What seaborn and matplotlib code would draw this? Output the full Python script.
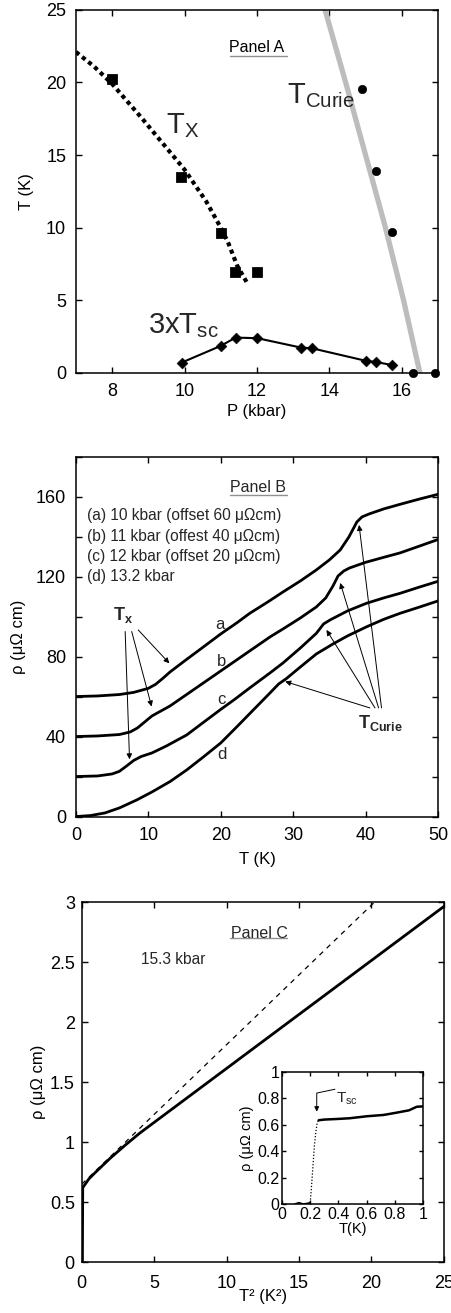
import numpy as np
import pandas as pd
import matplotlib
matplotlib.use('Agg')
import matplotlib.pyplot as plt
import seaborn as sns

# ---------------- data ----------------
# Panel A
tx_line_P = [7.0, 7.5, 8.0, 8.8, 9.6, 10.0, 10.6, 11.0, 11.2, 11.45, 11.75]
tx_line_T = [22.1, 21.1, 19.9, 17.6, 15.2, 14.0, 11.8, 10.0, 9.0, 7.4, 6.1]
tx_pts_P = [8.0, 9.9, 11.02, 11.39, 11.99]
tx_pts_T = [20.25, 13.5, 9.6, 6.98, 6.98]
curie_pts_P = [14.91, 15.3, 15.72, 16.32, 16.92]
curie_pts_T = [19.56, 13.93, 9.69, 0.0, 0.0]
curie_line_P = [13.88, 14.45, 15.0, 15.55, 16.05, 16.5]
curie_line_T = [25.0, 20.0, 15.0, 10.0, 5.0, 0.0]
tsc_P = [9.92, 11.0, 11.41, 12.01, 13.22, 13.51, 15.01, 15.3, 15.72]
tsc_T = [0.71, 1.86, 2.43, 2.39, 1.74, 1.70, 0.83, 0.74, 0.55]

# Panel B
a_T = [0, 3, 6, 8, 10, 11, 12, 13, 15, 17.6, 20, 22.2, 24, 26.5, 28.6, 31, 33.2, 35, 36.5,
       37.7, 38.8, 39.5, 40.5, 42.5, 44.75, 47.5, 50]
a_rho = [60.2, 60.5, 61.2, 62.3, 64.3, 66.3, 69.3, 72.5, 78, 85, 91.5, 97, 101.8, 107.5, 112.5,
         118, 123.5, 128.5, 133.5, 140, 147.5, 150, 151.5, 154, 156.3, 159, 161.3]
b_T = [0, 3, 6, 7.5, 8.5, 9.5, 10.5, 11.5, 13, 15, 17.6, 20, 22.2, 24, 26.8, 28.6, 31, 33.2,
       34.5, 35.5, 36.2, 37, 37.8, 40, 42.5, 44.75, 47.5, 50]
b_rho = [40.2, 40.5, 41.2, 42.5, 44.5, 47.5, 50.5, 52.5, 55.5, 60.5, 67, 73, 78.5, 83, 90, 94,
         99.5, 105, 109.5, 115.5, 120.5, 123, 124.5, 127.3, 129.8, 132, 135.5, 138.7]
c_T = [0, 3, 5, 6, 7, 8, 9, 10.5, 12.5, 15.3, 17.5, 19.9, 22, 24, 26.8, 28.6, 31, 33.2, 34.2,
       35.1, 37.5, 40.1, 42.5, 44.75, 47.5, 50]
c_rho = [20.2, 20.5, 21.5, 22.8, 25.5, 28.3, 30.2, 32, 35.5, 41, 47, 53.5, 59, 64.5, 72, 77,
         84.5, 91.8, 96.5, 98.5, 103, 106.8, 109.5, 111.8, 115, 117.8]
d_T = [0, 2, 4, 6, 8.4, 10.5, 13, 15.3, 17.6, 20, 22.2, 24.5, 26.8, 28, 29, 31, 33.2, 35.5,
       37.5, 40.1, 42.5, 44.75, 47.5, 50]
d_rho = [0.2, 0.7, 2, 4.5, 8.5, 12.5, 17.7, 23.5, 30, 37, 45, 53.5, 62, 66.5, 69, 75, 81.5,
         86.5, 90.5, 95, 98.8, 101.8, 105, 108]
legend_lines = ["(a) 10 kbar (offset 60 μΩcm)", "(b) 11 kbar (offest 40 μΩcm)",
                "(c) 12 kbar (offset 20 μΩcm)", "(d) 13.2 kbar"]

# Panel C
c_T2 = [0.0, 0.04, 0.0625, 0.5, 1, 2, 3, 4, 5, 6, 8, 10, 12, 14, 16, 18, 20, 22, 24, 25]
c_rhoC = [0.0, 0.0, 0.62, 0.695, 0.755, 0.87, 0.975, 1.075, 1.165, 1.255, 1.435, 1.615, 1.795,
          1.975, 2.155, 2.335, 2.515, 2.695, 2.875, 2.965]
fit_T2 = [0.0, 20.2]
fit_rho = [0.65, 3.0]
# inset
ins_T_sc = [0.09, 0.12, 0.15, 0.18, 0.20]
ins_rho_sc = [0.0, 0.01, 0.0, 0.005, 0.01]
ins_T_tr = [0.20, 0.21, 0.22, 0.23, 0.24, 0.25, 0.26]
ins_rho_tr = [0.01, 0.15, 0.30, 0.45, 0.55, 0.62, 0.635]
ins_T_n = [0.26, 0.3, 0.4, 0.48, 0.6, 0.72, 0.8, 0.9, 0.955, 1.0]
ins_rho_n = [0.635, 0.64, 0.645, 0.65, 0.665, 0.675, 0.69, 0.71, 0.737, 0.74]

# ---------------- style ----------------
sns.set_theme(style='ticks')
plt.rcParams['font.family'] = ['Liberation Sans', 'DejaVu Sans']
plt.rcParams['mathtext.fontset'] = 'custom'
plt.rcParams['mathtext.rm'] = 'Liberation Sans'
plt.rcParams['mathtext.bf'] = 'Liberation Sans:bold'
plt.rcParams['mathtext.it'] = 'Liberation Sans:italic'
plt.rcParams['mathtext.sf'] = 'Liberation Sans'
plt.rcParams['axes.edgecolor'] = 'black'
plt.rcParams['axes.linewidth'] = 1.1

TICK = 13
LAB = 12


def style_ax(ax, size=TICK, length=4, pad=7):
    ax.tick_params(direction='in', top=True, right=True, length=length, width=1,
                   labelsize=size, colors='black', pad=pad)
    for s in ax.spines.values():
        s.set_color('black')


fig = plt.figure(figsize=(4.52, 13.13), dpi=100)

# ---------------- Panel A ----------------
axA = fig.add_axes([0.168, 0.716, 0.801, 0.2765])
sns.lineplot(x=curie_line_P, y=curie_line_T, ax=axA, color='#bdbdbd', lw=3.8,
             sort=False, estimator=None)
sns.lineplot(x=tx_line_P, y=tx_line_T, ax=axA, color='black', lw=3.0, sort=False,
             estimator=None, linestyle=(0, (1, 0.9)), dash_capstyle='butt')
sns.lineplot(x=tsc_P, y=tsc_T, ax=axA, color='black', lw=1.5, sort=False, estimator=None)
sns.scatterplot(x=tsc_P, y=tsc_T, ax=axA, marker='D', s=30, color='black',
                edgecolor='black', zorder=5)
sns.scatterplot(x=tx_pts_P, y=tx_pts_T, ax=axA, marker='s', s=50, color='black',
                edgecolor='black', zorder=5)
sns.scatterplot(x=curie_pts_P, y=curie_pts_T, ax=axA, marker='o', s=36, color='black',
                edgecolor='black', zorder=5, clip_on=False)
axA.set_xlim(7, 17)
axA.set_ylim(0, 25)
axA.set_xticks([8, 10, 12, 14, 16])
axA.set_yticks([0, 5, 10, 15, 20, 25])
style_ax(axA)
axA.set_xlabel('P (kbar)', fontsize=LAB, color='black', labelpad=3)
axA.set_ylabel('T (K)', fontsize=LAB, color='black', labelpad=9)
axA.text(12.0, 22.4, 'Panel A', fontsize=11.5, ha='center', va='center', color='black')
axA.plot([11.25, 12.83], [21.8, 21.8], color='#909090', lw=1)
axA.text(9.5, 16.5, r'$\mathrm{T_X}$', fontsize=21, ha='left', va='baseline')
axA.text(12.83, 18.6, r'$\mathrm{T_{Curie}}$', fontsize=21, ha='left', va='baseline')
axA.text(9.0, 2.7, r'$\mathrm{3xT_{sc}}$', fontsize=21, ha='left', va='baseline')

# ---------------- Panel B ----------------
axB = fig.add_axes([0.168, 0.3778, 0.801, 0.2742])
for T, r in [(a_T, a_rho), (b_T, b_rho), (c_T, c_rho), (d_T, d_rho)]:
    sns.lineplot(x=T, y=r, ax=axB, color='black', lw=2.0, sort=False, estimator=None)
axB.set_xlim(0, 50)
axB.set_ylim(0, 180)
axB.set_xticks([0, 10, 20, 30, 40, 50])
axB.set_yticks(np.arange(0, 181, 20))
axB.set_yticklabels([str(v) if v % 40 == 0 and v <= 160 else '' for v in range(0, 181, 20)])
style_ax(axB)
axB.set_xlabel('T (K)', fontsize=LAB, color='black', labelpad=6)
axB.set_ylabel('ρ (μΩ cm)', fontsize=LAB, color='black', labelpad=7)
axB.text(25.1, 164.5, 'Panel B', fontsize=11.5, ha='center', va='center')
axB.plot([21.3, 29.1], [160.8, 160.8], color='#909090', lw=1)
for i, s in enumerate(legend_lines):
    axB.text(1.5, [150.5, 140.2, 130.0, 120.2][i], s, fontsize=11.2, ha='left', va='center')
for lab, (x, y) in zip('abcd', [(19.9, 96), (20.1, 77.7), (20.1, 58.5), (20.1, 31)]):
    axB.text(x, y, lab, fontsize=12, ha='center', va='center')
axB.text(6.5, 101, r'$\mathbf{T_x}$', fontsize=13, ha='center', va='center')
arr = dict(arrowstyle='-|>', lw=0.7, color='black', shrinkA=0, shrinkB=0,
           mutation_scale=8)
for (xs, ys), (xe, ye) in [((8.6, 93.5), (12.9, 76.8)), ((7.7, 92.7), (10.45, 55.2)),
                           ((6.8, 92.7), (7.4, 28.8))]:
    axB.annotate('', xy=(xe, ye), xytext=(xs, ys), arrowprops=arr)
axB.text(42.0, 46.8, r'$\mathbf{T_{Curie}}$', fontsize=13, ha='center', va='center')
for (xs, ys), (xe, ye) in [((40.6, 54.5), (28.9, 67.7)), ((41.3, 54.5), (34.6, 93.5)),
                           ((41.8, 54.5), (36.5, 117)), ((42.2, 54.5), (39.1, 146))]:
    axB.annotate('', xy=(xe, ye), xytext=(xs, ys), arrowprops=arr)

# ---------------- Panel C ----------------
axC = fig.add_axes([0.181, 0.0388, 0.801, 0.274])
sns.lineplot(x=fit_T2, y=fit_rho, ax=axC, color='black', lw=0.9, sort=False,
             estimator=None, linestyle=(0, (4, 4)))
sns.lineplot(x=c_T2, y=c_rhoC, ax=axC, color='black', lw=2.0, sort=False, estimator=None)
axC.set_xlim(0, 25)
axC.set_ylim(0, 3)
axC.set_xticks([0, 5, 10, 15, 20, 25])
axC.set_yticks([0, 0.5, 1, 1.5, 2, 2.5, 3])
axC.set_yticklabels(['0', '0.5', '1', '1.5', '2', '2.5', '3'])
style_ax(axC, pad=5)
axC.tick_params(axis='x', pad=9)
axC.set_xlabel('T² (K²)', fontsize=LAB, color='black', labelpad=-2)
axC.set_ylabel('ρ (μΩ cm)', fontsize=LAB, color='black', labelpad=3)
axC.text(12.25, 2.74, 'Panel C', fontsize=11.5, ha='center', va='center')
axC.plot([10.2, 14.2], [2.70, 2.70], color='#909090', lw=1)
axC.text(4.1, 2.52, '15.3 kbar', fontsize=11.2, ha='left', va='center')

# inset
axI = fig.add_axes([0.624, 0.083, 0.312, 0.1005])
sns.lineplot(x=ins_T_sc, y=ins_rho_sc, ax=axI, color='black', lw=1.2, sort=False,
             estimator=None)
sns.lineplot(x=ins_T_tr, y=ins_rho_tr, ax=axI, color='black', lw=0.9, sort=False,
             estimator=None, linestyle=(0, (1, 1.5)))
sns.lineplot(x=ins_T_n, y=ins_rho_n, ax=axI, color='black', lw=1.8, sort=False,
             estimator=None)
axI.set_xlim(0, 1)
axI.set_ylim(0, 1)
axI.set_xticks([0, 0.2, 0.4, 0.6, 0.8, 1])
axI.set_xticklabels(['0', '0.2', '0.4', '0.6', '0.8', '1'])
axI.set_yticks([0, 0.2, 0.4, 0.6, 0.8, 1])
axI.set_yticklabels(['0', '0.2', '0.4', '0.6', '0.8', '1'])
style_ax(axI, size=11.5, length=3, pad=2)
axI.set_xlabel('T(K)', fontsize=10.5, color='black', labelpad=0)
axI.set_ylabel('ρ (μΩ cm)', fontsize=10.5, color='black', labelpad=2)
axI.annotate('', xy=(0.246, 0.70), xytext=(0.375, 0.87),
             arrowprops=dict(arrowstyle='-|>', lw=0.7, color='black', shrinkA=0, shrinkB=0,
                             mutation_scale=7,
                             connectionstyle='angle,angleA=12,angleB=90,rad=0'))
axI.text(0.385, 0.80, r'$\mathrm{T_{sc}}$', fontsize=11, ha='left', va='center')

fig.savefig('out.png', dpi=100)
